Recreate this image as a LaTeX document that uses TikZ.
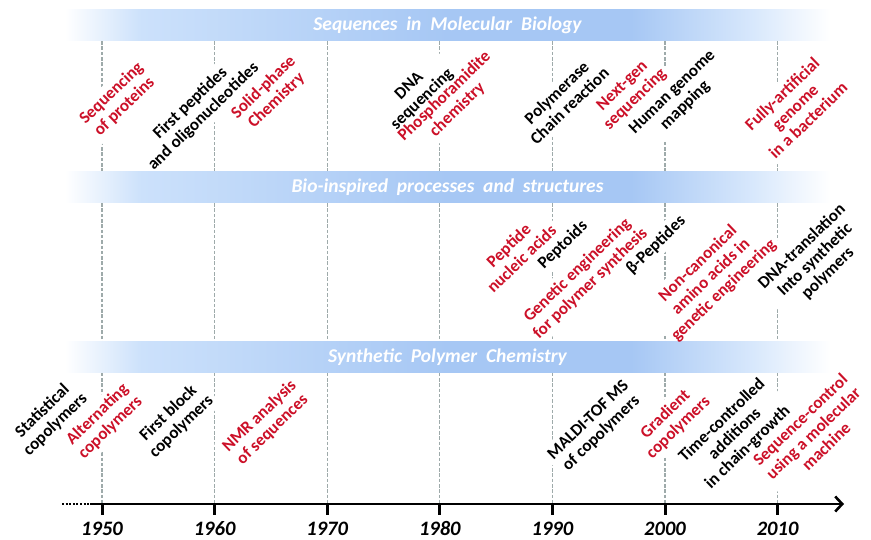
\documentclass[tikz,border=0pt]{standalone}
\usepackage{fontspec}
\setmainfont{Carlito}
\usetikzlibrary{arrows.meta}
\definecolor{labred}{RGB}{204,16,40}
\definecolor{gridgray}{RGB}{158,170,170}
\definecolor{bandA}{HTML}{CCE1FB}
\definecolor{bandB}{HTML}{A6C7F4}
\definecolor{bandC}{HTML}{D8E8FC}
\pgfdeclarehorizontalshading{bandshade}{100bp}{color(0bp)=(white); color(25bp)=(white); color(30bp)=(bandA); color(50bp)=(bandB); color(62bp)=(bandB); color(70bp)=(bandC); color(75bp)=(white); color(100bp)=(white)}
\pgfdeclarelayer{bandlayer}
\pgfdeclarelayer{frontlayer}
\pgfsetlayers{main,bandlayer,frontlayer}
\tikzset{
  lab/.style={rotate=44, align=center, inner sep=4pt,
    font=\bfseries\fontsize{17}{18.6}\selectfont},
  band/.style={shade, shading=bandshade, minimum width=765pt, minimum height=31pt,
    inner sep=0pt, text=white, font=\bfseries\itshape\fontsize{19.5}{21}\selectfont},
  gridline/.style={gridgray, line width=1.2pt, dash pattern=on 3.5pt off 1.8pt},
  axisline/.style={black, line width=2.6pt},
  tick/.style={black, line width=3pt},
  year/.style={font=\bfseries\itshape\fontsize{20.5}{22}\selectfont, inner sep=0pt},
  maskfill/.style={fill=white}
}
\newcommand\tlab[4]{%
  \begin{pgfonlayer}{frontlayer}
    \node[lab, text=#3] (#1) at (#2) {#4};
  \end{pgfonlayer}
  \fill[maskfill] (#1.south west) -- (#1.south east) -- (#1.north east) -- (#1.north west) -- cycle;}
\begin{document}
\begin{tikzpicture}[x=1pt,y=-1pt]
\useasboundingbox (0,0) rectangle (871,540);
% bands
\begin{pgfonlayer}{bandlayer}
\node[band] (band1) at (447.5,25.5) {Sequences\ \ in\ \ Molecular\ \ Biology};
\node[band] (band2) at (447.5,187.5) {Bio-inspired\ \ processes\ \ and\ \ structures};
\node[band] (band3) at (447.5,357) {Synthetic\ \ Polymer\ \ Chemistry};
\end{pgfonlayer}
% axis
\coordinate (axstart) at (62,504);
\coordinate (axmid) at (90,504);
\coordinate (axend) at (844,504);
\foreach \i in {0,...,6} {
  \coordinate (y\i) at ({102+112.6*\i},504);
  \draw[gridline] (band1.south -| y\i) -- (band2.north -| y\i);
  \draw[gridline] (band2.south -| y\i) -- (band3.north -| y\i);
  \draw[gridline] (band3.south -| y\i) -- (y\i);
}
% Sequences in molecular biology
\tlab{s1}{118,100}{labred}{Sequencing\\of proteins}
\tlab{s2}{197,110}{black}{First peptides\\and oligonucleotides}
\tlab{s3}{270,94}{labred}{Solid-phase\\Chemistry}
\tlab{s4}{416,93}{black}{DNA\\sequencing}
\tlab{s5}{451,103}{labred}{Phosphoramidite\\chemistry}
\tlab{s6}{563,99}{black}{Polymerase\\Chain reaction}
\tlab{s7}{629,93}{labred}{Next-gen\\sequencing}
\tlab{s8}{679,99}{black}{Human genome\\mapping}
\tlab{s9}{795,107}{labred}{Fully-artificial\\genome\\in a bacterium}
% Bio-inspired
\tlab{b1}{515,252}{labred}{Peptide\\nucleic acids}
\tlab{b2}{563,245}{black}{Peptoids}
\tlab{b3}{584,277}{labred}{Genetic engineering\\for polymer synthesis}
\tlab{b4}{656,245}{black}{β-Peptides}
\tlab{b5}{711,277}{labred}{Non-canonical\\amino acids in\\genetic engineering}
\tlab{b6}{815,260}{black}{DNA-translation\\Into synthetic\\polymers}
% Synthetic polymer chemistry
\tlab{p1}{49,418}{black}{Statistical\\copolymers}
\tlab{p2}{104,421}{labred}{Alternating\\copolymers}
\tlab{p3}{175,420}{black}{First block\\copolymers}
\tlab{p4}{266,423}{labred}{NMR analysis\\of sequences}
\tlab{p5}{595,427}{black}{MALDI-TOF MS\\of copolymers}
\tlab{p6}{672,421}{labred}{Gradient\\copolymers}
\tlab{p7}{735,434}{black}{Time-controlled\\additions\\in chain-growth}
\tlab{p8}{813,433}{labred}{Sequence-control\\using a molecular\\machine}
% axis drawn above masks
\draw[black, line width=2.6pt, dash pattern=on 2pt off 1.6pt] (axstart) -- (axmid);
\draw[axisline, -{Straight Barb[length=7pt,width=15pt]}] (axmid) -- (axend);
\foreach \yr [count=\i from 0] in {1950,1960,1970,1980,1990,2000,2010} {
  \draw[tick] (y\i) -- ++(0,11);
  \node[year] (yl\i) at ({102+112.6*\i},529) {\yr};
}
\end{tikzpicture}
\end{document}
